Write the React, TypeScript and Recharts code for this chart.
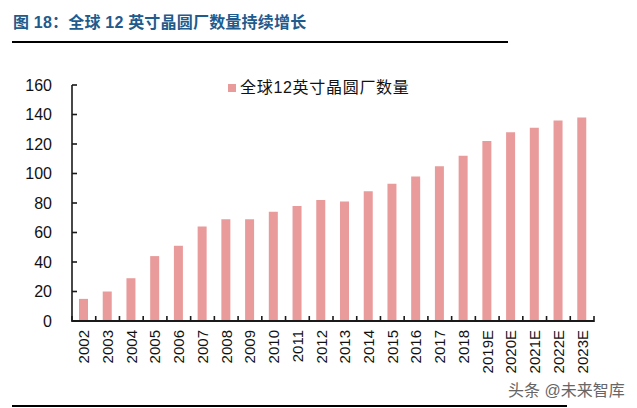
import React from 'react';
import { BarChart, Bar, XAxis, YAxis } from 'recharts';

const years = [
  '2002', '2003', '2004', '2005', '2006', '2007', '2008', '2009', '2010', '2011', '2012',
  '2013', '2014', '2015', '2016', '2017', '2018', '2019E', '2020E', '2021E', '2022E', '2023E',
];
const fabCounts = [15, 20, 29, 44, 51, 64, 69, 69, 74, 78, 82, 81, 88, 93, 98, 105, 112, 122, 128, 131, 136, 138];
const yTicks = [0, 20, 40, 60, 80, 100, 120, 140, 160];
const seriesName = '全球12英寸晶圆厂数量';
const title = '图 18：全球 12 英寸晶圆厂数量持续增长';
const watermark = '头条 @未来智库';

const chartData = years.map((y, i) => ({ year: y, count: fabCounts[i] }));

const FONT = "'Liberation Sans', Arial, 'Noto Sans CJK SC', sans-serif";
const BAR_COLOR = '#E99A9A';
const AXIS_COLOR = '#1a1a1a';
const LABEL_GAP = 9;

// rotated year label, plus a short upward tick on the category boundary
const YearTick = (props: any) => {
  const { x, y, payload, index } = props;
  const half = payload.offset ?? 0;
  const axisY = y - LABEL_GAP;
  return (
    <g>
      <line x1={x - half} x2={x - half} y1={axisY + 1} y2={axisY - 5} stroke={AXIS_COLOR} strokeWidth={1.6} />
      {index === years.length - 1 && (
        <line x1={x + half} x2={x + half} y1={axisY + 1} y2={axisY - 5} stroke={AXIS_COLOR} strokeWidth={1.6} />
      )}
      <text
        x={x}
        y={y}
        dy="0.36em"
        transform={`rotate(-90, ${x}, ${y})`}
        textAnchor="end"
        fontSize={15}
        fontFamily={FONT}
        fill="#111"
      >
        {payload.value}
      </text>
    </g>
  );
};

const App: React.FC = () => {
  return (
    <div style={{ position: 'absolute', left: 0, top: 0, width: 637, height: 408, background: '#fff', fontFamily: FONT }}>
      <BarChart
        width={637}
        height={408}
        data={chartData}
        margin={{ top: 85, right: 43, left: 0, bottom: 27 }}
      >
        <XAxis
          dataKey="year"
          height={60}
          interval={0}
          axisLine={{ stroke: AXIS_COLOR, strokeWidth: 2 }}
          tickLine={false}
          tickSize={0}
          tickMargin={LABEL_GAP}
          tick={<YearTick />}
        />
        <YAxis
          domain={[0, 160]}
          ticks={yTicks}
          width={72}
          tickSize={-5}
          tickMargin={25}
          axisLine={{ stroke: AXIS_COLOR, strokeWidth: 1.6 }}
          tickLine={{ stroke: AXIS_COLOR, strokeWidth: 1.6 }}
          tick={{ fontSize: 16, fill: '#111', fontFamily: FONT }}
        />
        <Bar dataKey="count" name={seriesName} fill={BAR_COLOR} barSize={9} isAnimationActive={false} />
      </BarChart>

      <div
        style={{
          position: 'absolute', left: 13, top: 13, fontSize: 16, fontWeight: 'bold',
          color: '#1F5B8C', whiteSpace: 'nowrap', lineHeight: '20px', letterSpacing: 0.2,
        }}
      >
        {title}
      </div>
      <div style={{ position: 'absolute', left: 12, top: 41, width: 496, height: 1.5, background: '#000' }} />

      <div style={{ position: 'absolute', left: 228, top: 79, display: 'flex', alignItems: 'center', whiteSpace: 'nowrap' }}>
        <span style={{ display: 'inline-block', width: 8, height: 8, background: BAR_COLOR, marginRight: 4 }} />
        <span style={{ fontSize: 16, letterSpacing: 0.7, color: '#111', lineHeight: '18px' }}>{seriesName}</span>
      </div>

      <div
        style={{
          position: 'absolute', left: 508, top: 381, fontSize: 16, color: '#666', whiteSpace: 'nowrap',
          lineHeight: '20px', textShadow: '0 0 2px #fff',
        }}
      >
        {watermark}
      </div>
      <div style={{ position: 'absolute', left: 12, top: 405, width: 555, height: 1.5, background: '#000' }} />
    </div>
  );
};

export default App;
